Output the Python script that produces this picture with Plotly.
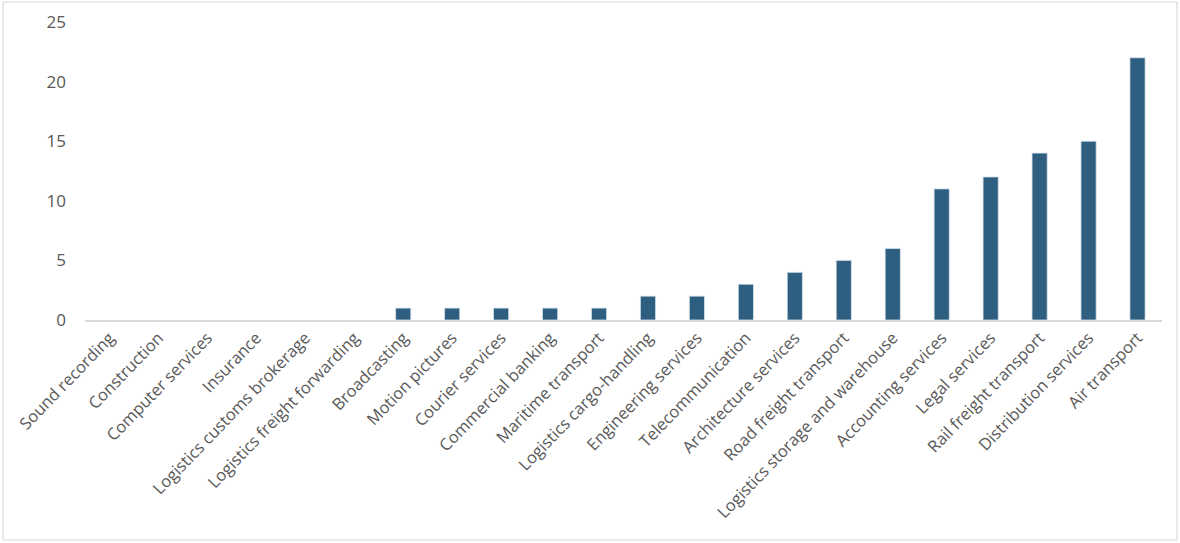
import plotly.graph_objects as go

categories = [
    "Sound recording", "Construction", "Computer services", "Insurance",
    "Logistics customs brokerage", "Logistics freight forwarding", "Broadcasting",
    "Motion pictures", "Courier services", "Commercial banking", "Maritime transport",
    "Logistics cargo-handling", "Engineering services", "Telecommunication",
    "Architecture services", "Road freight transport", "Logistics storage and warehouse",
    "Accounting services", "Legal services", "Rail freight transport",
    "Distribution services", "Air transport",
]
values = [0, 0, 0, 0, 0, 0, 1, 1, 1, 1, 1, 2, 2, 3, 4, 5, 6, 11, 12, 14, 15, 22]
y_ticks = [0, 5, 10, 15, 20, 25]

W, H = 1180, 543
L, R, T, B = 85, 18, 22, 223
pw, ph = W - L - R, H - T - B

fig = go.Figure(go.Bar(
    x=categories, y=values,
    marker=dict(color="#2E5F80",
                line=dict(color="#D6E2EC", width=[0 if v == 0 else 0.8 for v in values])),
    width=0.31,
))

font_family = "Open Sans, Liberation Sans, Arial, sans-serif"
fig.update_layout(
    width=W, height=H,
    margin=dict(l=L, r=R, t=T, b=B),
    paper_bgcolor="white", plot_bgcolor="white",
    showlegend=False,
    font=dict(family=font_family, color="#595959"),
    xaxis=dict(
        tickangle=-46, tickfont=dict(size=16.5, color="#595959"),
        showline=True, linecolor="#D9D9D9", linewidth=1.5,
        showgrid=False, ticks="", zeroline=False, automargin=False,
    ),
    yaxis=dict(
        range=[0, 25], tickvals=y_ticks, tickfont=dict(size=17, color="#595959"),
        showgrid=False, zeroline=False, showline=False, ticks="",
        ticklabelstandoff=18, automargin=False,
    ),
    shapes=[dict(
        type="rect", xref="paper", yref="paper",
        x0=(3 - L) / pw, x1=(1177 - L) / pw,
        y0=(H - B - 540) / ph, y1=(H - B - 2) / ph,
        line=dict(color="#D9D9D9", width=1.2), fillcolor="rgba(0,0,0,0)", layer="below",
    )],
)

fig.write_html(
    "out.html",
    config={"displayModeBar": False},
    post_script="document.body.style.margin='0';document.body.style.overflow='hidden';",
)
